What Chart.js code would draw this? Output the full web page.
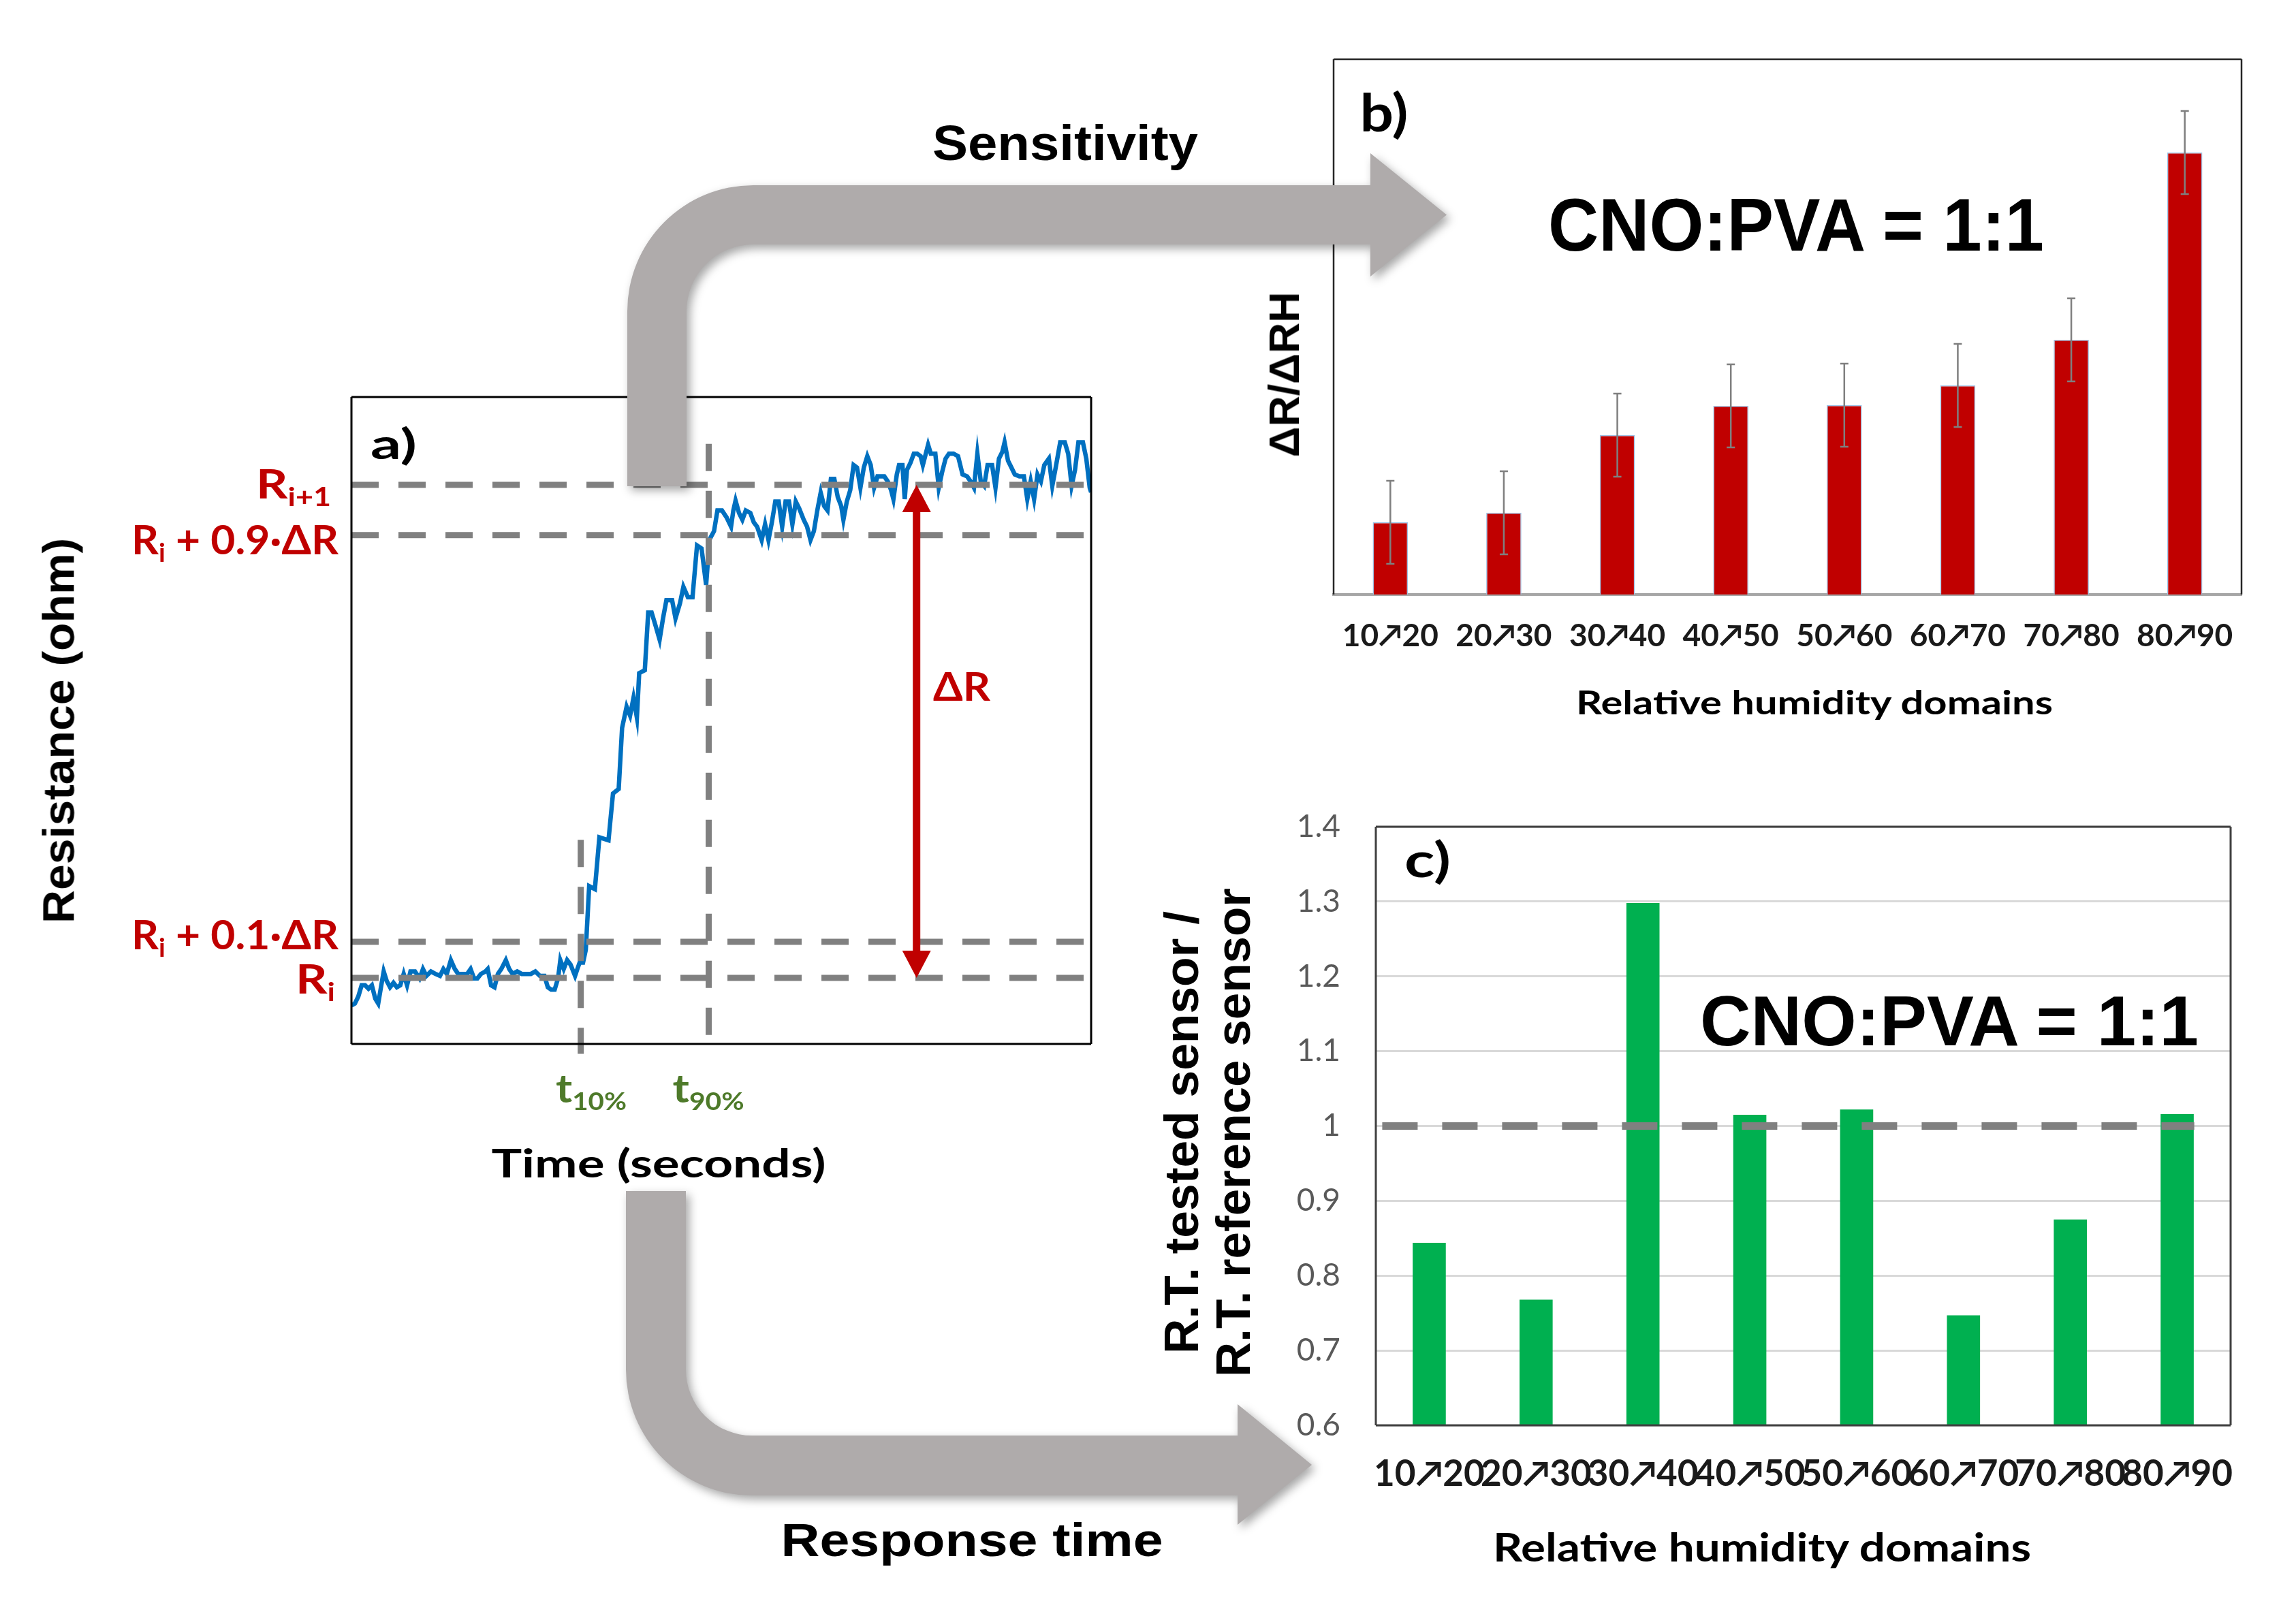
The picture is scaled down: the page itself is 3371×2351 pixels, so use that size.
<!DOCTYPE html>
<html>
<head>
<meta charset="utf-8">
<title>Resistance transient, sensitivity and response time</title>
<script src="https://cdn.jsdelivr.net/npm/chart.js@4.4.1/dist/chart.umd.min.js"></script>
<style>
  html, body { margin: 0; padding: 0; background: #fff; }
  #page { position: relative; width: 3371px; height: 2351px; overflow: hidden; background: #fff; }
  #page canvas { position: absolute; }
  .txt { position: absolute; white-space: nowrap; line-height: 1; }
  .sub { font-size: 0.62em; position: relative; top: 0.3em; }
</style>
</head>
<body>
<div id="page">
  <canvas id="chartA" width="1660" height="1060" style="left:0px;top:540px"></canvas>
  <canvas id="chartB" width="1560" height="960" style="left:1780px;top:40px"></canvas>
  <canvas id="chartC" width="1700" height="1050" style="left:1640px;top:1150px"></canvas>
  <canvas id="arrows" width="3371" height="2351" style="left:0px;top:0px"></canvas>
  <div id="labels"></div>
</div>
<script>
// ---- a) resistance transient (R_i = 0, R_i+1 = 1), time as % of the window
const timeA = [0, 0.46, 0.92, 1.38, 1.84, 2.3, 2.76, 3.22, 3.62, 3.99, 4.36, 4.76, 5.22, 5.68, 6.14,
  6.6, 7.06, 7.52, 7.98, 8.59, 9.21, 9.67, 10.13, 10.74, 11.36, 11.97, 12.43, 12.89, 13.44, 13.97,
  14.43, 15.04, 15.65, 16.11, 16.57, 17.03, 17.5, 18.11, 18.42, 18.88, 19.34, 19.8, 20.26, 20.87, 21.33,
  21.79, 22.41, 23.02, 23.63, 24.25, 24.86, 25.48, 26.09, 26.55, 27.01, 27.47, 27.93, 28.24, 28.7, 29.16,
  29.62, 30.23, 30.54, 30.85, 31.31, 31.68,
  32.14, 32.91, 33.52, 34.75, 35.36, 36.13, 36.59, 37.2, 37.67, 38.13, 38.59, 38.9, 39.66, 40.12, 40.58,
  41.2, 41.66, 42.12, 42.58, 43.35, 43.81, 44.42, 44.88, 45.49, 46.11, 46.72, 47.33, 47.95, 48.41,
  49.02, 49.48, 50.09, 50.71, 51.32, 51.63, 51.93, 52.39, 52.85, 53.31, 53.93, 54.39, 54.85, 55.46, 55.92,
  56.38, 56.84, 57.3, 57.76, 58.23, 58.69, 59.15, 59.61, 60.07, 60.53, 61.14, 61.6, 62.06, 62.52, 62.98,
  63.44, 63.9, 64.36, 64.82, 65.28, 65.75, 66.21, 66.51, 66.97, 67.43, 67.89, 68.35, 68.81, 69.27, 69.74,
  70.2, 70.66, 71.12, 71.58, 72.04, 72.5, 72.96, 73.27, 73.73, 74.03, 74.49, 74.8, 75.1, 75.56, 76.03,
  76.49, 76.95, 77.25, 77.56, 77.96, 78.33, 78.94, 79.4, 79.86, 80.32, 80.78, 81.4, 82.01, 82.62, 83.24,
  83.7, 84.16, 84.62, 85.08, 85.54, 86.0, 86.61, 87.07, 87.54, 88.0, 88.3, 88.76, 89.22, 89.68, 90.3,
  90.91, 91.37, 91.83, 92.29, 92.75, 93.21, 93.67, 94.29, 94.75, 95.21, 95.82, 96.44, 96.9, 97.36, 97.82,
  98.28, 98.89, 99.35, 99.81, 100];
const resistA = [-0.056, -0.052, -0.038, -0.015, -0.015, -0.022, -0.015, -0.042, -0.052, -0.019, 0.013, -0.006, -0.019, -0.010, -0.019,
  -0.015, 0.008, -0.015, 0.013, 0.013, -0.001, 0.018, 0.004, 0.013, 0.008, 0.004, 0.018, 0.008, 0.036, 0.018,
  0.008, 0.008, 0.008, 0.018, -0.001, -0.001, 0.008, 0.013, 0.018, -0.015, -0.019, 0.008, 0.018, 0.036, 0.018,
  0.008, 0.013, 0.008, 0.008, 0.008, 0.013, 0.004, 0.004, -0.019, -0.024, -0.024, -0.001, 0.036, 0.018, 0.036,
  0.027, 0.004, 0.018, 0.031, 0.031, 0.057,
  0.186, 0.180, 0.285, 0.279, 0.374, 0.383, 0.507, 0.550, 0.532, 0.568, 0.528, 0.618, 0.624, 0.741, 0.741,
  0.710, 0.686, 0.729, 0.766, 0.766, 0.729, 0.760, 0.793, 0.772, 0.772, 0.877, 0.871, 0.797, 0.889,
  0.906, 0.948, 0.948, 0.934, 0.915, 0.948, 0.968, 0.943, 0.929, 0.948, 0.943, 0.924, 0.915, 0.888, 0.920,
  0.888, 0.924, 0.966, 0.966, 0.915, 0.966, 0.966, 0.920, 0.966, 0.952, 0.929, 0.915, 0.888, 0.906, 0.948,
  0.984, 0.957, 0.948, 1.012, 1.012, 0.975, 0.957, 0.929, 0.966, 0.989, 1.040, 1.035, 0.994, 1.035, 1.058,
  1.040, 0.994, 1.017, 1.017, 1.017, 1.007, 0.989, 0.971, 1.021, 1.040, 1.040, 0.971, 1.030, 1.044, 1.063,
  1.063, 1.058, 1.040, 1.058, 1.081, 1.063, 1.063, 0.994, 1.026, 1.053, 1.063, 1.063, 1.058, 1.021, 1.017,
  1.007, 0.994, 1.063, 1.007, 0.998, 1.040, 1.040, 0.994, 1.053, 1.067, 1.086, 1.049, 1.035, 1.021, 1.017,
  1.017, 0.971, 1.007, 0.971, 1.021, 1.007, 1.040, 1.053, 0.998, 1.035, 1.086, 1.086, 1.063, 0.998, 1.030,
  1.086, 1.086, 1.053, 0.994, 0.985];
const levelsA = [0, 0.073, 0.898, 1];            // R_i, R_i+0.1ΔR, R_i+0.9ΔR, R_i+1
const levelNames = ['R<span class="sub">i</span>', 'R<span class="sub">i</span> + 0.1·ΔR',
  'R<span class="sub">i</span> + 0.9·ΔR', 'R<span class="sub">i+1</span>'];
const tMarks = [31.0, 48.3];                     // t10%, t90%
const tMarkTops = [0.28, 1.083];
const tNames = ['t<span class="sub">10%</span>', 't<span class="sub">90%</span>'];
const deltaRx = 76.4;

// ---- b) sensitivity per humidity domain
const domains = ['10↗20', '20↗30', '30↗40', '40↗50', '50↗60', '60↗70', '70↗80', '80↗90'];
const sensitivity = [1.06, 1.20, 2.34, 2.77, 2.78, 3.07, 3.74, 6.49];
const sensitivityErr = [0.61, 0.61, 0.61, 0.61, 0.61, 0.61, 0.61, 0.61];

// ---- c) response time ratio tested / reference
const rtRatio = [0.844, 0.768, 1.298, 1.015, 1.022, 0.747, 0.875, 1.016];
const refRatio = 1.0;
const refSpan = [-0.44, 7.16];

const RED = '#C00000';
const GREEN = '#4E7A2A';
const LATO = "Lato, 'DejaVu Sans', sans-serif";
const ARIAL = "'Liberation Sans', Arial, sans-serif";

// box around the plot area
const framePlugin = {
  id: 'frame',
  afterDatasetsDraw(chart, args, opts) {
    const {ctx, chartArea: a} = chart;
    const sides = opts.sides || 'tlrb';
    ctx.save();
    ctx.strokeStyle = opts.color;
    ctx.lineWidth = opts.width;
    ctx.beginPath();
    if (sides.includes('t')) { ctx.moveTo(a.left, a.top); ctx.lineTo(a.right, a.top); }
    if (sides.includes('r')) { ctx.moveTo(a.right, a.top); ctx.lineTo(a.right, a.bottom); }
    if (sides.includes('b')) { ctx.moveTo(a.left, a.bottom); ctx.lineTo(a.right, a.bottom); }
    if (sides.includes('l')) { ctx.moveTo(a.left, a.top); ctx.lineTo(a.left, a.bottom); }
    ctx.stroke();
    ctx.restore();
  }
};

// double headed ΔR arrow between R_i and R_i+1
const deltaArrowPlugin = {
  id: 'deltaArrow',
  afterDatasetsDraw(chart) {
    const {ctx, scales: {x, y}} = chart;
    const px = x.getPixelForValue(deltaRx);
    const pTop = y.getPixelForValue(levelsA[3]);
    const pBot = y.getPixelForValue(levelsA[0]);
    const hl = 40, hw = 21;
    ctx.save();
    ctx.strokeStyle = RED;
    ctx.fillStyle = RED;
    ctx.lineWidth = 11;
    ctx.beginPath();
    ctx.moveTo(px, pTop + hl - 2);
    ctx.lineTo(px, pBot - hl + 2);
    ctx.stroke();
    ctx.beginPath();
    ctx.moveTo(px, pTop); ctx.lineTo(px + hw, pTop + hl); ctx.lineTo(px - hw, pTop + hl);
    ctx.closePath();
    ctx.moveTo(px, pBot); ctx.lineTo(px + hw, pBot - hl); ctx.lineTo(px - hw, pBot - hl);
    ctx.closePath();
    ctx.fill();
    ctx.restore();
  }
};

const errorBarPlugin = {
  id: 'errorBars',
  afterDatasetsDraw(chart) {
    const {ctx, scales: {y}} = chart;
    const meta = chart.getDatasetMeta(0);
    ctx.save();
    ctx.strokeStyle = '#7F7F7F';
    ctx.lineWidth = 2.5;
    meta.data.forEach((bar, i) => {
      const top = y.getPixelForValue(sensitivity[i] + sensitivityErr[i]);
      const bot = y.getPixelForValue(sensitivity[i] - sensitivityErr[i]);
      ctx.beginPath();
      ctx.moveTo(bar.x, top); ctx.lineTo(bar.x, bot);
      ctx.moveTo(bar.x - 6, top); ctx.lineTo(bar.x + 6, top);
      ctx.moveTo(bar.x - 6, bot); ctx.lineTo(bar.x + 6, bot);
      ctx.stroke();
    });
    ctx.restore();
  }
};

const refLinePlugin = {
  id: 'refLine',
  afterDatasetsDraw(chart) {
    const {ctx, scales: {x, y}} = chart;
    const py = y.getPixelForValue(refRatio);
    ctx.save();
    ctx.setLineDash([52, 36]);
    ctx.strokeStyle = '#808080';
    ctx.lineWidth = 11;
    ctx.beginPath();
    ctx.moveTo(x.getPixelForValue(refSpan[0]), py);
    ctx.lineTo(x.getPixelForValue(refSpan[1]), py);
    ctx.stroke();
    ctx.restore();
  }
};

// ---- chart a
const dashed = {borderColor: '#808080', borderWidth: 9, borderDash: [40, 29], pointRadius: 0, order: 1};
const datasetsA = [];
levelsA.forEach(lv => datasetsA.push({...dashed, data: [{x: 0, y: lv}, {x: 100, y: lv}]}));
tMarks.forEach((t, i) => datasetsA.push({...dashed, clip: false,
  data: [{x: t, y: tMarkTops[i]}, {x: t, y: -0.154}]}));
datasetsA.push({
  data: timeA.map((t, i) => ({x: t, y: resistA[i]})),
  borderColor: '#0070C0', borderWidth: 6.5, pointRadius: 0, tension: 0, order: 2
});

const chartA = new Chart(document.getElementById('chartA'), {
  type: 'line',
  data: {datasets: datasetsA},
  options: {
    responsive: false, animation: false, events: [],
    layout: {padding: {left: 516, top: 43, right: 58, bottom: 67}},
    plugins: {legend: {display: false}, tooltip: {enabled: false},
      frame: {color: '#000', width: 3}},
    scales: {
      x: {type: 'linear', display: false, min: 0, max: 100},
      y: {type: 'linear', display: false, min: -0.134, max: 1.178}
    }
  },
  plugins: [framePlugin, deltaArrowPlugin]
});

// ---- chart b
const chartB = new Chart(document.getElementById('chartB'), {
  type: 'bar',
  data: {
    labels: domains,
    datasets: [{data: sensitivity, backgroundColor: RED, borderColor: '#9DC3E6', borderWidth: 1.5,
      barPercentage: 0.31, categoryPercentage: 1}]
  },
  options: {
    responsive: false, animation: false, events: [],
    layout: {padding: {left: 178, top: 47, right: 49, bottom: 0}},
    plugins: {legend: {display: false}, tooltip: {enabled: false},
      frame: {color: '#262626', width: 2.5, sides: 'tlr'}},
    scales: {
      x: {
        grid: {display: false, drawTicks: false},
        border: {display: true, color: '#A6A6A6', width: 4},
        ticks: {font: {family: LATO, size: 46, weight: 'bold'}, color: '#1A1A1A', padding: 34,
          maxRotation: 0, autoSkip: false},
        afterFit(s) { s.height = 127; }
      },
      y: {display: false, min: 0, max: 7.86}
    }
  },
  plugins: [framePlugin, errorBarPlugin]
});

// ---- chart c
const chartC = new Chart(document.getElementById('chartC'), {
  type: 'bar',
  data: {
    labels: domains,
    datasets: [{data: rtRatio, backgroundColor: '#00B050', barPercentage: 0.31, categoryPercentage: 1}]
  },
  options: {
    responsive: false, animation: false, events: [],
    layout: {padding: {left: 0, top: 64, right: 65, bottom: 0}},
    plugins: {legend: {display: false}, tooltip: {enabled: false},
      frame: {color: '#404040', width: 3}},
    scales: {
      x: {
        grid: {display: false, drawTicks: false},
        border: {display: false},
        ticks: {font: {family: LATO, size: 53, weight: 'bold'}, color: '#1A1A1A', padding: 40,
          maxRotation: 0, autoSkip: false},
        afterFit(s) { s.height = 107; }
      },
      y: {
        min: 0.6, max: 1.4,
        grid: {color: '#D9D9D9', lineWidth: 3, drawTicks: false},
        border: {display: false},
        ticks: {stepSize: 0.1, padding: 52, font: {family: LATO, size: 46}, color: '#595959',
          callback: v => +v.toFixed(1)},
        afterFit(s) { s.width = 380; s.paddingTop = 0; s.paddingBottom = 0; }
      }
    }
  },
  plugins: [framePlugin, refLinePlugin]
});

// ---- big grey arrows
(function drawArrows() {
  const ctx = document.getElementById('arrows').getContext('2d');
  ctx.fillStyle = '#AFABAB';
  ctx.shadowColor = 'rgba(0,0,0,0.35)';
  ctx.shadowBlur = 14;
  ctx.shadowOffsetX = 5;
  ctx.shadowOffsetY = 6;
  // sensitivity arrow
  ctx.beginPath();
  ctx.moveTo(921, 714);
  ctx.lineTo(921, 457);
  ctx.arc(1106, 457, 185, Math.PI, 1.5 * Math.PI);
  ctx.lineTo(2012, 272);
  ctx.lineTo(2012, 225);
  ctx.lineTo(2124, 315.5);
  ctx.lineTo(2012, 406);
  ctx.lineTo(2012, 359);
  ctx.lineTo(1106, 359);
  ctx.arc(1106, 457, 98, 1.5 * Math.PI, Math.PI, true);
  ctx.lineTo(1008, 714);
  ctx.closePath();
  ctx.fill();
  // response time arrow
  ctx.beginPath();
  ctx.moveTo(919, 1749);
  ctx.lineTo(919, 2011);
  ctx.arc(1104, 2011, 185, Math.PI, 0.5 * Math.PI, true);
  ctx.lineTo(1817, 2196);
  ctx.lineTo(1817, 2239);
  ctx.lineTo(1926, 2151);
  ctx.lineTo(1817, 2062);
  ctx.lineTo(1817, 2108);
  ctx.lineTo(1104, 2108);
  ctx.arc(1104, 2011, 97, 0.5 * Math.PI, Math.PI);
  ctx.lineTo(1007, 1749);
  ctx.closePath();
  ctx.fill();
})();

// ---- text labels (html), fitted to the measured width
const labelBox = document.getElementById('labels');
function placeText(t) {
  const el = document.createElement('div');
  el.className = 'txt';
  el.innerHTML = t.html;
  el.style.font = `${t.weight || 'bold'} ${t.size}px ${t.family}`;
  el.style.color = t.color || '#000';
  labelBox.appendChild(el);
  const w = el.getBoundingClientRect().width;
  const k = t.width ? t.width / w : 1;
  el.style.left = t.x + 'px';
  el.style.top = t.y + 'px';
  if (t.anchor === 'right') {
    el.style.transformOrigin = '100% 50%';
    el.style.transform = `translate(-100%,-50%) scaleX(${k})`;
  } else {
    el.style.transform = `translate(-50%,-50%) rotate(${t.rotate || 0}deg) scaleX(${k})`;
  }
}

[
  {html: 'Sensitivity', family: ARIAL, size: 73, x: 1564, y: 209, width: 390},
  {html: 'Response time', family: ARIAL, size: 68, x: 1427, y: 2261, width: 561},
  {html: 'Resistance (ohm)', family: ARIAL, size: 65, x: 86, y: 1073, width: 566, rotate: -90},
  {html: 'Time (seconds)', family: LATO, size: 58, x: 967, y: 1706, width: 491},
  {html: 'a)', family: LATO, size: 62, x: 578, y: 650, width: 68},
  {html: 'b)', family: LATO, size: 76, x: 2032, y: 163, width: 71},
  {html: 'c)', family: LATO, size: 70, x: 2096, y: 1261, width: 68},
  {html: 'CNO:PVA = 1:1', family: ARIAL, size: 109, x: 2637, y: 330, width: 728},
  {html: 'CNO:PVA = 1:1', family: ARIAL, size: 103, x: 2862, y: 1500, width: 732},
  {html: 'ΔR/ΔRH', family: ARIAL, size: 63, x: 1885, y: 550, width: 243, rotate: -90},
  {html: 'R.T. tested sensor /', family: ARIAL, size: 70, x: 1735, y: 1663, width: 650, rotate: -90},
  {html: 'R.T. reference sensor', family: ARIAL, size: 70, x: 1811, y: 1663, width: 718, rotate: -90},
  {html: 'Relative humidity domains', family: LATO, size: 48, x: 2664, y: 1030, width: 700},
  {html: 'Relative humidity domains', family: LATO, size: 57, x: 2587, y: 2271, width: 790},
  {html: 'ΔR', family: LATO, size: 58, x: 1412, y: 1006, width: 84, color: RED}
].forEach(placeText);

// level names and t-marks follow the scales of chart a
const aLeft = 0, aTop = 540;
const levelLayout = {right: [492, 497, 497, 486], width: [58, 304, 304, 110], dy: [0, -12, 5, -3]};
levelsA.forEach((lv, i) => placeText({
  html: levelNames[i], family: LATO, size: 60, color: RED, anchor: 'right',
  x: levelLayout.right[i], width: levelLayout.width[i],
  y: aTop + chartA.scales.y.getPixelForValue(lv) + levelLayout.dy[i]
}));
const tLayout = {dx: [15, -1], width: [104, 105]};
tMarks.forEach((t, i) => placeText({
  html: tNames[i], family: LATO, size: 58, color: GREEN,
  x: aLeft + chartA.scales.x.getPixelForValue(t) + tLayout.dx[i], y: 1596, width: tLayout.width[i]
}));
</script>
</body>
</html>
